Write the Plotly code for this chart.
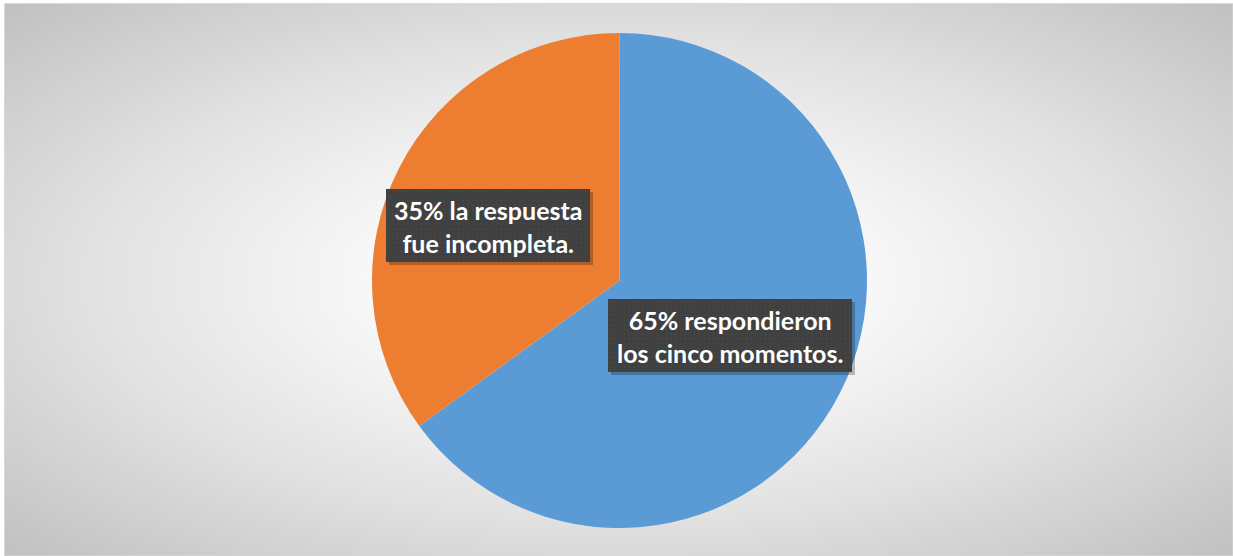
import base64
import plotly.graph_objects as go

# Survey result: share of answers per outcome
categories = ["respondieron los cinco momentos.", "la respuesta fue incompleta."]
percentages = [65, 35]
slice_colors = ["#5B9BD5", "#ED7D31"]

W, H = 1233, 556


def svg_uri(svg):
    return "data:image/svg+xml;base64," + base64.b64encode(svg.encode()).decode()


# Chart-area background: radial gray gradient, light at centre
bg_svg = (
    f'<svg xmlns="http://www.w3.org/2000/svg" width="{W}" height="{H}" viewBox="0 0 {W} {H}" preserveAspectRatio="none">'
    '<defs><radialGradient id="g" cx="50%" cy="50%" r="71%">'
    '<stop offset="0" stop-color="#ffffff"/>'
    '<stop offset="0.25" stop-color="#fafafa"/>'
    '<stop offset="0.6" stop-color="#e2e2e2"/>'
    '<stop offset="1" stop-color="#c0c0c0"/>'
    '</radialGradient></defs>'
    f'<rect x="0" y="0" width="{W}" height="{H}" fill="url(#g)"/></svg>'
)


def label_box_svg(w, h):
    # dark label box with faint dot texture and soft drop shadow
    return (
        f'<svg xmlns="http://www.w3.org/2000/svg" width="{w + 4}" height="{h + 4}" viewBox="0 0 {w + 4} {h + 4}">'
        '<defs><pattern id="p" width="4.7" height="4.7" patternUnits="userSpaceOnUse">'
        '<rect width="4.7" height="4.7" fill="#404040"/>'
        '<rect x="1.6" y="1.6" width="1.2" height="1.2" fill="#4e4e4e"/></pattern></defs>'
        f'<rect x="3" y="3" width="{w}" height="{h}" fill="rgba(0,0,0,0.25)"/>'
        f'<rect x="0" y="0" width="{w}" height="{h}" fill="url(#p)"/></svg>'
    )


def px_x(x):
    return x / W


def px_y(y):
    return 1 - y / H


fig = go.Figure(
    go.Pie(
        labels=categories,
        values=percentages,
        marker=dict(colors=slice_colors, line=dict(width=0)),
        sort=False,
        direction="clockwise",
        rotation=0,
        textinfo="none",
        hoverinfo="label+percent",
        showlegend=False,
        domain=dict(x=[px_x(372), px_x(867)], y=[px_y(528), px_y(33)]),
    )
)

images = [
    dict(source=svg_uri(bg_svg), xref="paper", yref="paper",
         x=px_x(5), y=px_y(4), sizex=(W - 5) / W, sizey=(H - 4) / H,
         xanchor="left", yanchor="top", sizing="stretch", layer="below"),
]

# label boxes (left, top, right, bottom in px) and their text
boxes = [(608, 299, 852, 372), (386, 189, 590, 262)]
annotations = []
for (x0, y0, x1, y1), pct, cat in zip(boxes, percentages, categories):
    bw, bh = x1 - x0, y1 - y0
    images.append(dict(source=svg_uri(label_box_svg(bw, bh)), xref="paper", yref="paper",
                       x=px_x(x0), y=px_y(y0), sizex=(bw + 4) / W, sizey=(bh + 4) / H,
                       xanchor="left", yanchor="top", sizing="stretch", layer="above"))
    words = cat.split(" ")
    if pct == 65:
        text = f"{pct}% {words[0]}<br>{' '.join(words[1:])}"
    else:
        text = f"{pct}% {' '.join(words[:2])}<br>{' '.join(words[2:])}"
    annotations.append(dict(
        x=px_x((x0 + x1) / 2), y=px_y((y0 + y1) / 2 + 1), xref="paper", yref="paper",
        text=f"<b>{text}</b>", showarrow=False, align="center",
        font=dict(family="Lato, Open Sans, sans-serif", size=25, color="#ffffff"),
    ))

fig.update_layout(
    width=W, height=H,
    margin=dict(l=0, r=0, t=0, b=0),
    paper_bgcolor="#ffffff",
    plot_bgcolor="rgba(0,0,0,0)",
    images=images,
    annotations=annotations,
    shapes=[dict(type="rect", xref="paper", yref="paper",
                 x0=px_x(4.5), x1=1.0, y0=0.0, y1=px_y(3.5),
                 line=dict(color="#d9d9d9", width=1), layer="below")],
)

fig.write_html("out.html")
